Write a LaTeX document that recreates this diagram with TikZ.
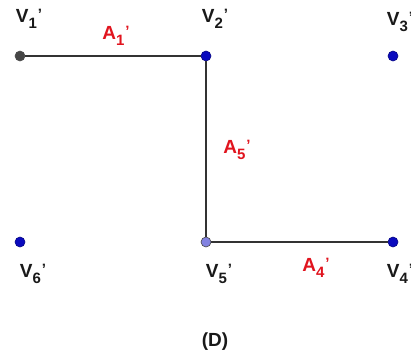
\documentclass[tikz,border=0pt]{standalone}
\usepackage{fontspec}
\setmainfont{Liberation Sans}
\definecolor{ptblue}{RGB}{10,10,190}
\definecolor{ptlight}{RGB}{130,130,225}
\definecolor{ptgray}{RGB}{70,70,70}
\definecolor{lblred}{RGB}{225,20,30}
\newcommand{\lab}[2]{#1\raisebox{-0.55ex}{\fontsize{15}{15}\selectfont #2}\kern1pt\raisebox{0.3ex}{\fontsize{15}{15}\selectfont '}}
\tikzset{
  pt/.style={circle,inner sep=0pt,minimum size=10pt,fill=ptblue,draw=ptblue!70!black,line width=0.6pt},
  vlab/.style={font=\fontsize{19}{19}\selectfont\bfseries,text=black!90,inner sep=0pt},
  elab/.style={font=\fontsize{19}{19}\selectfont\bfseries,text=lblred,inner sep=0pt},
  edge/.style={draw=black!80,line width=1.5pt}
}
\begin{document}
\begin{tikzpicture}[x=1pt,y=-1pt]
\useasboundingbox[fill=white] (0,0) rectangle (411,354);
\node[pt,fill=ptgray,draw=black!70] (v1) at (20,56) {};
\node[pt] (v2) at (206,56) {};
\node[pt] (v3) at (393,56) {};
\node[pt] (v6) at (20,242) {};
\node[pt,fill=ptlight,draw=ptgray] (v5) at (206,242) {};
\node[pt] (v4) at (393,242) {};
\draw[edge] (v1) -- (v2);
\draw[edge] (v2) -- (v5);
\draw[edge] (v5) -- (v4);
\node[vlab] (l1) at (29,19) {\lab{V}{1}};
\node[vlab] (l2) at (215,19) {\lab{V}{2}};
\node[vlab] (l3) at (400,22) {\lab{V}{3}};
\node[vlab] (l6) at (33,274) {\lab{V}{6}};
\node[vlab] (l5) at (219,274) {\lab{V}{5}};
\node[vlab] (l4) at (400,274) {\lab{V}{4}};
\node[elab] (a1) at (116,36) {\lab{A}{1}};
\node[elab] (a5) at (237,150) {\lab{A}{5}};
\node[elab] (a4) at (316,268) {\lab{A}{4}};
\node[vlab] (cap) at (215,342) {(D)};
\end{tikzpicture}
\end{document}
